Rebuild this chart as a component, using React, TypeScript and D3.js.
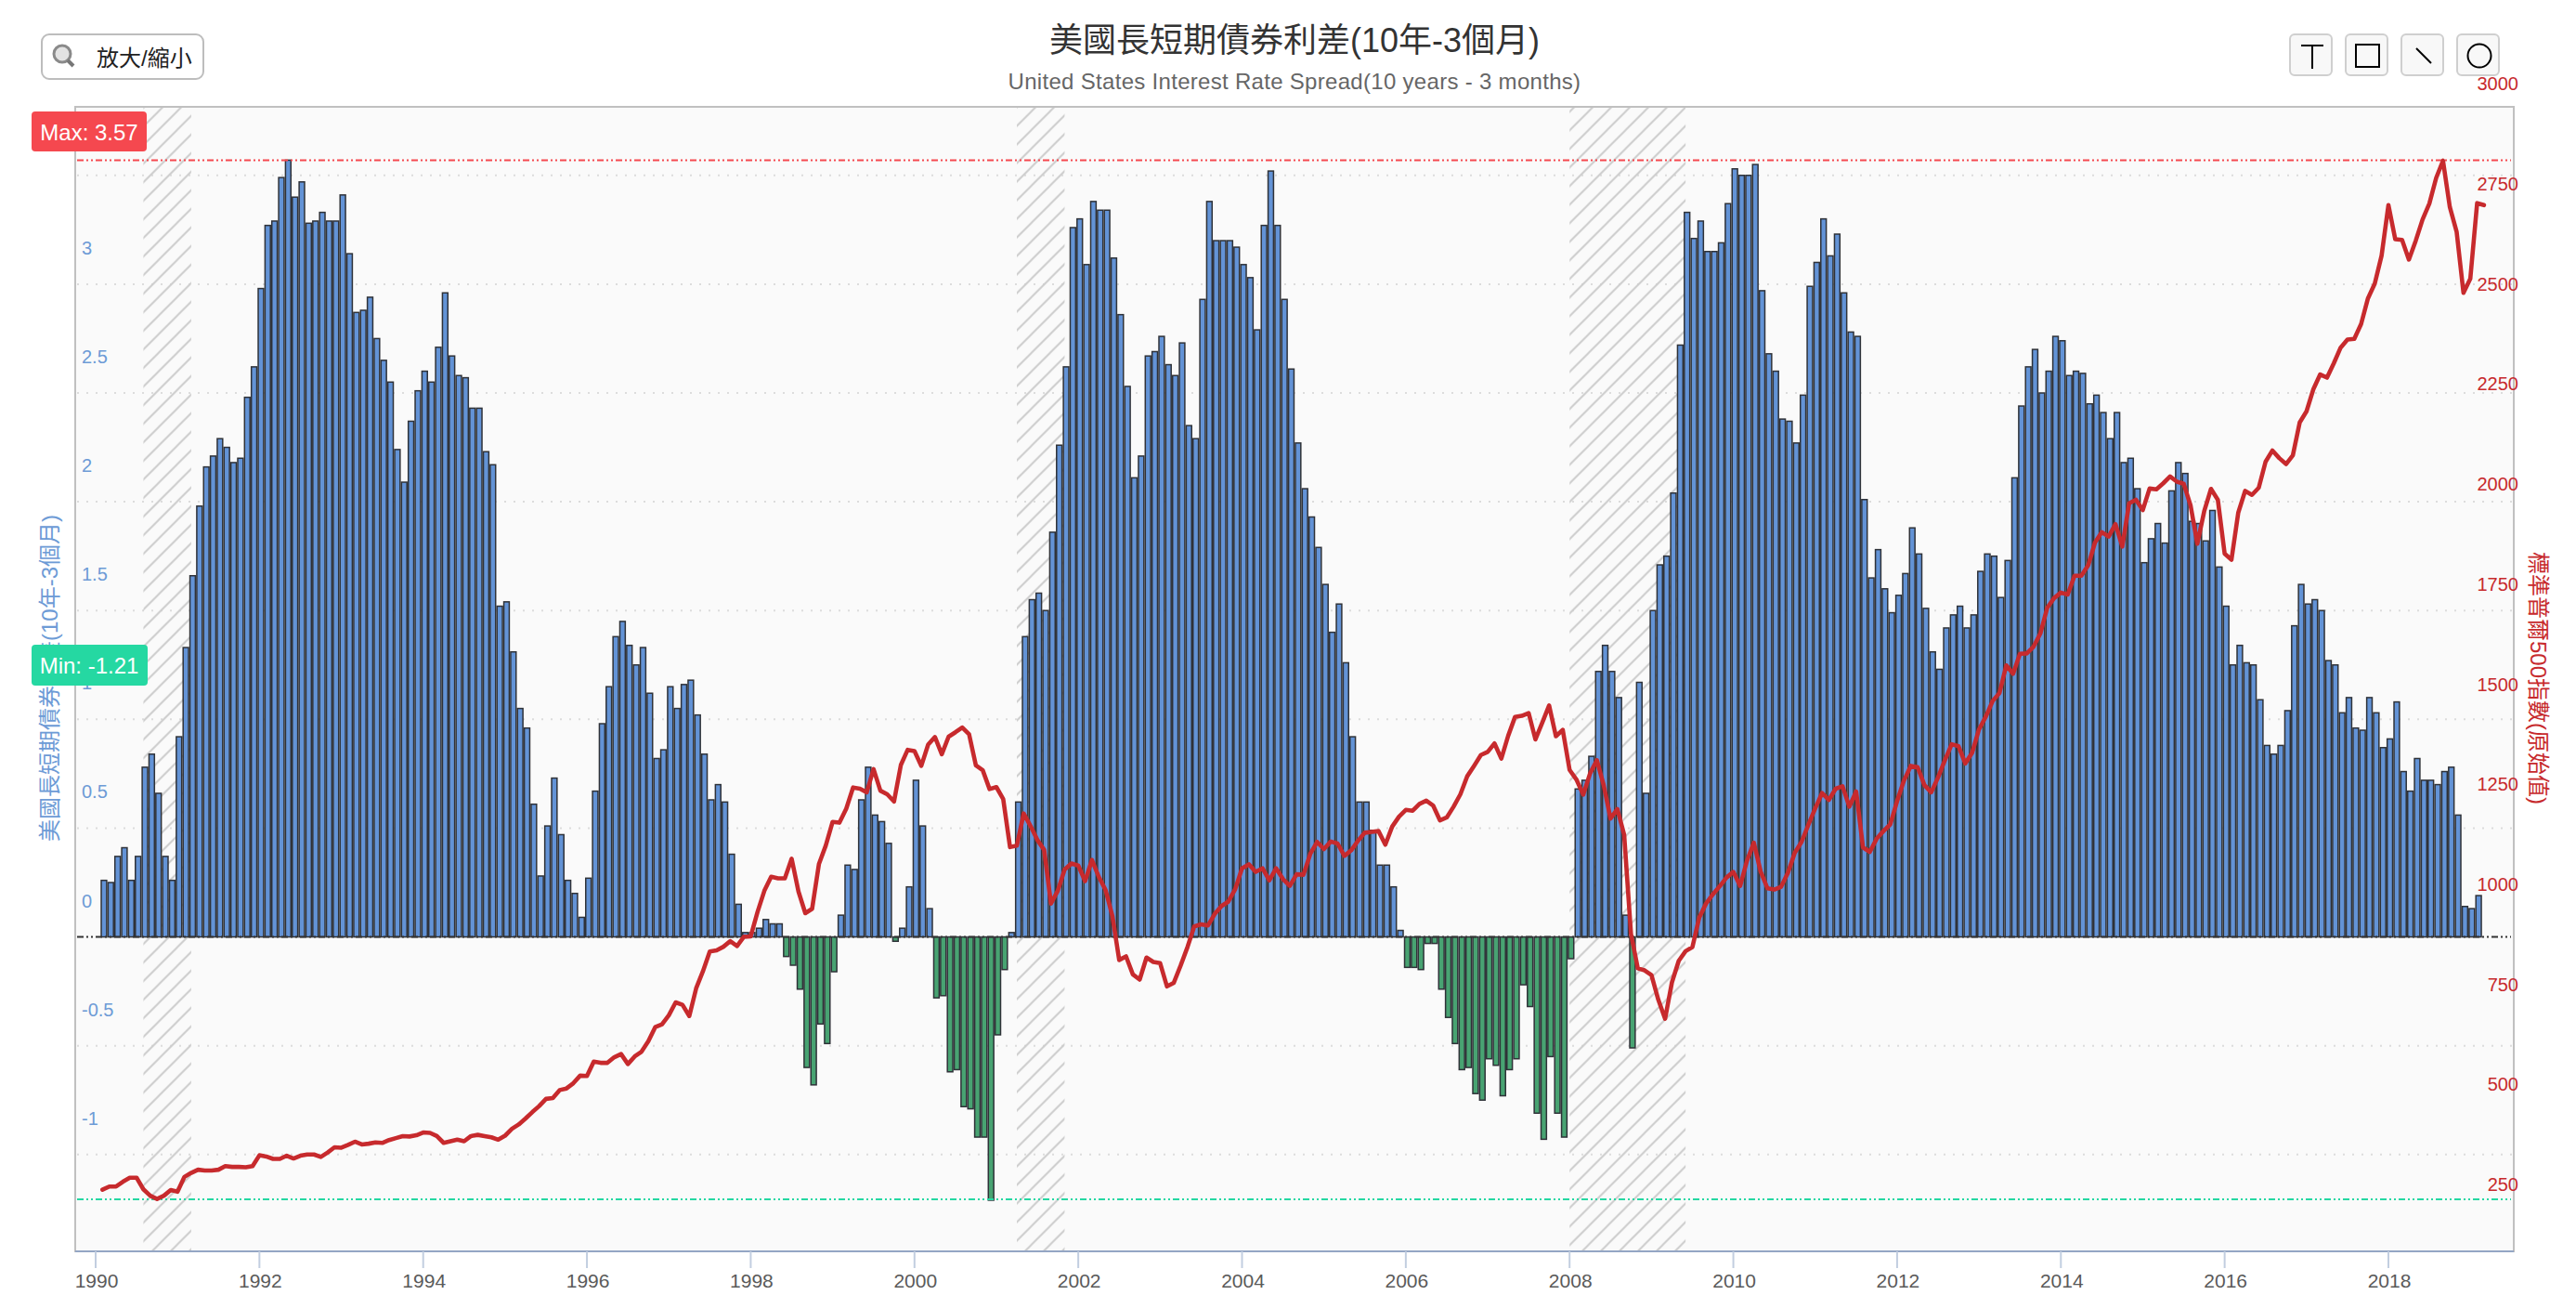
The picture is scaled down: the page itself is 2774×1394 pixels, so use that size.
import React from "react";
import * as d3 from "d3";

const WIDTH = 2774;
const HEIGHT = 1394;

const TITLE = "美國長短期債券利差(10年-3個月)";
const SUBTITLE = "United States Interest Rate Spread(10 years - 3 months)";
const LEFT_NAME = "美國長短期債券利差(10年-3個月)";
const RIGHT_NAME = "標準普爾500指數(原始值)";

// months since Jan 1990, first mark is Feb 1990
const FIRST_MONTH = 1;
const YEAR_TICKS = d3.range(1990, 2019, 2);
const LEFT_TICKS = [-1, -0.5, 0, 0.5, 1, 1.5, 2, 2.5, 3];
const RIGHT_TICKS = [250, 500, 750, 1000, 1250, 1500, 1750, 2000, 2250, 2500, 2750, 3000];
const GRID_VALUES = [-1, -0.5, 0.5, 1, 1.5, 2, 2.5, 3, 3.5];
const MAX_VALUE = 3.57;
const MIN_VALUE = -1.21;

// recessions as [start, end] in months since Jan 1990
const RECESSIONS = [[7, 14], [135, 142], [216, 233]];

const SPREAD = [
  0.26, 0.25, 0.37, 0.41, 0.26, 0.37, 0.78, 0.84, 0.66, 0.37, 0.26, 0.92, 1.33, 1.66, 1.98, 2.16, 2.21, 2.29, 2.25, 2.18,
  2.2, 2.48, 2.62, 2.98, 3.27, 3.29, 3.49, 3.57, 3.4, 3.47, 3.28, 3.29, 3.33, 3.29, 3.29, 3.41, 3.14, 2.87, 2.88, 2.94,
  2.75, 2.65, 2.55, 2.24, 2.09, 2.37, 2.51, 2.6, 2.55, 2.71, 2.96, 2.67, 2.58, 2.57, 2.43, 2.43, 2.23, 2.17, 1.52, 1.54,
  1.31, 1.05, 0.96, 0.61, 0.28,
  0.51, 0.73, 0.47, 0.26, 0.2, 0.09, 0.27, 0.67, 0.98, 1.15, 1.38, 1.45, 1.34, 1.25, 1.33, 1.12, 0.82, 0.86, 1.15, 1.05,
  1.16, 1.18, 1.02, 0.84, 0.63, 0.7, 0.62, 0.38, 0.15, 0.02, 0.02, 0.04, 0.08, 0.06, 0.06,
  -0.09, -0.13, -0.24, -0.6, -0.68, -0.4, -0.49, -0.16, 0.1, 0.33, 0.31, 0.63, 0.78, 0.56, 0.53, 0.43, -0.02, 0.04, 0.23,
  0.72, 0.51, 0.13, -0.28, -0.27, -0.62, -0.61, -0.78, -0.79, -0.92, -0.92, -1.21, -0.45, -0.15, 0.02,
  0.62, 1.38, 1.55, 1.58, 1.5, 1.86, 2.26, 2.62, 3.26, 3.3, 3.09, 3.38, 3.34, 3.34, 3.12, 2.86, 2.53, 2.11, 2.21, 2.67,
  2.69, 2.76, 2.63, 2.58, 2.73, 2.35, 2.29, 2.93, 3.38, 3.2, 3.2, 3.2, 3.17, 3.09, 3.03, 2.79, 3.27, 3.52, 3.27, 2.93,
  2.61, 2.27, 2.06, 1.93, 1.79, 1.62, 1.4, 1.53, 1.26, 0.92, 0.62, 0.62, 0.49, 0.33, 0.33, 0.23, 0.03,
  -0.14, -0.14, -0.15, -0.03, -0.03, -0.24, -0.37, -0.49, -0.61, -0.6, -0.72, -0.75, -0.56, -0.59, -0.73, -0.61, -0.56,
  -0.22, -0.32, -0.81, -0.93, -0.55, -0.81, -0.92, -0.1,
  0.68, 0.72, 0.83, 1.22, 1.34, 1.22, 1.1, 0.1, -0.51, 1.17, 0.66, 1.5, 1.71, 1.75, 2.04, 2.72, 3.33, 3.21, 3.29, 3.15,
  3.15, 3.19, 3.37, 3.53, 3.5, 3.5, 3.55, 2.97, 2.68, 2.6, 2.38, 2.37, 2.27, 2.49, 2.99, 3.1, 3.3, 3.13, 3.23, 2.96,
  2.78, 2.76, 2.01, 1.65, 1.78, 1.6, 1.49, 1.57, 1.67, 1.88, 1.76, 1.51, 1.31, 1.23, 1.42, 1.48, 1.52, 1.42,
  1.48, 1.68, 1.76, 1.75, 1.56, 1.73, 2.11, 2.44, 2.62, 2.7, 2.5, 2.6, 2.76, 2.74, 2.58, 2.6, 2.59, 2.45, 2.49, 2.41,
  2.29, 2.41, 2.18, 2.2, 2.06, 1.72, 1.83, 1.9, 1.81, 2.05, 2.18, 2.13, 1.91, 1.9, 1.82, 1.96, 1.7, 1.52, 1.25, 1.34,
  1.26, 1.25, 1.09, 0.88, 0.84, 0.88, 1.04, 1.43, 1.62, 1.53, 1.55, 1.5, 1.27, 1.25, 1.03, 1.1, 0.96, 0.95, 1.1, 1.03,
  0.87, 0.91, 1.08, 0.76, 0.67, 0.82, 0.72, 0.72, 0.7, 0.76, 0.78, 0.56, 0.14, 0.13, 0.19,
];

const SP500 = [
  330, 338, 338, 350, 360, 360, 331, 315, 307, 315, 329,
  325, 362, 372, 380, 378, 378, 380, 389, 387, 387, 386, 389,
  416, 413, 407, 407, 415, 408, 415, 418, 418, 412, 423, 436,
  435, 442, 450, 443, 445, 448, 447, 454, 459, 464, 463, 466,
  473, 472, 464, 447, 451, 455, 451, 464, 467, 464, 461, 455,
  465, 482, 493, 508, 524, 539, 557, 559, 579, 583, 596, 615,
  614, 650, 647, 647, 661, 669, 644, 663, 675, 701, 736, 743,
  766, 798, 792, 764, 833, 876, 925, 928, 937, 951, 939, 962,
  963, 1024, 1077, 1112, 1108, 1108, 1157, 1075, 1021, 1032, 1144, 1190,
  1249, 1247, 1282, 1335, 1332, 1323, 1381, 1327, 1318, 1300, 1391, 1429,
  1426, 1389, 1442, 1461, 1418, 1462, 1473, 1485, 1468, 1390, 1378, 1331,
  1336, 1306, 1186, 1190, 1270, 1239, 1204, 1179, 1045, 1077, 1130, 1145,
  1140, 1101, 1154, 1112, 1079, 1014, 904, 913, 868, 855, 910, 899,
  896, 838, 847, 890, 936, 988, 993, 990, 1019, 1039, 1050, 1081,
  1133, 1143, 1124, 1133, 1103, 1133, 1106, 1089, 1118, 1117, 1169, 1199,
  1181, 1200, 1195, 1164, 1178, 1202, 1222, 1224, 1226, 1192, 1237, 1262,
  1279, 1277, 1294, 1302, 1290, 1253, 1260, 1287, 1318, 1363, 1389, 1416,
  1424, 1445, 1407, 1464, 1511, 1514, 1521, 1455, 1497, 1540, 1463, 1479,
  1379, 1355, 1317, 1370, 1403, 1341, 1257, 1281, 1217, 969, 883, 878,
  866, 805, 757, 848, 902, 926, 936, 1010, 1045, 1068, 1088, 1110,
  1124, 1089, 1152, 1197, 1125, 1083, 1080, 1087, 1122, 1172, 1199, 1242,
  1283, 1321, 1304, 1332, 1338, 1287, 1325, 1185, 1174, 1207, 1226, 1243,
  1301, 1352, 1389, 1386, 1341, 1323, 1360, 1403, 1443, 1438, 1395, 1422,
  1480, 1512, 1551, 1571, 1640, 1619, 1669, 1670, 1687, 1720, 1784, 1808,
  1822, 1817, 1864, 1864, 1890, 1947, 1973, 1962, 1993, 1937, 2045, 2054,
  2028, 2082, 2080, 2095, 2112, 2099, 2094, 2040, 1944, 2025, 2081, 2054,
  1919, 1904, 2022, 2076, 2066, 2084, 2149, 2177, 2158, 2143, 2165, 2247,
  2275, 2330, 2367, 2359, 2395, 2434, 2454, 2456, 2493, 2557, 2594, 2664,
  2790, 2705, 2703, 2654, 2701, 2754, 2794, 2858, 2901, 2785, 2723, 2571,
  2606, 2795, 2790,
];

const PLOT = { left: 81, right: 2707, top: 115, bottom: 1347 };

const COLORS = {
  blue: "#6393d6",
  green: "#48a372",
  barStroke: "#2f3238",
  leftAxis: "#6d9bd6",
  red: "#c72a2d",
  grid: "#dcdcdc",
  maxMark: "#f5484f",
  minMark: "#25d8a2",
};

const x = d3.scaleLinear().domain([0, 336]).range([103, 2572]);
const yLeft = d3.scaleLinear().domain([-1.445, 3.815]).range([PLOT.bottom, PLOT.top]);
const yRight = d3.scaleLinear().domain([2901, 306]).range([173, 1291]);

const linePath = d3
  .line<number>()
  .x((_, i) => x(FIRST_MONTH + i))
  .y((d) => yRight(d))(SP500) as string;

const SANS = "'Liberation Sans', Arial, sans-serif";
const CJK = "'Liberation Sans', 'Noto Sans CJK TC', sans-serif";
const DASH_DOT = "7 3 2 3 2 3";
const BAR_W = 5.85;
const BAR_SHIFT = 1.6;
const LEFT_LABEL_RAISE = 39;
const RIGHT_LABEL_RAISE = 40;

function Bars() {
  const zero = yLeft(0);
  return (
    <g stroke={COLORS.barStroke} strokeWidth={1.5}>
      {SPREAD.map((v, i) => {
        const cx = x(FIRST_MONTH + i) + BAR_SHIFT;
        const y1 = yLeft(v);
        return (
          <rect
            key={i}
            x={cx - BAR_W / 2}
            y={Math.min(y1, zero)}
            width={BAR_W}
            height={Math.abs(y1 - zero)}
            fill={v >= 0 ? COLORS.blue : COLORS.green}
          />
        );
      })}
    </g>
  );
}

function ToolButton({ x: bx, children }: { x: number; children: React.ReactNode }) {
  return (
    <g>
      <rect x={bx} y={37} width={45} height={44} rx={5} fill="#f8f8f8" stroke="#cfcfcf" strokeWidth={2} />
      {children}
    </g>
  );
}

export default function App() {
  return (
    <svg
      width={WIDTH}
      height={HEIGHT}
      style={{ position: "absolute", left: 0, top: 0, display: "block", background: "#fff" }}
    >
      <defs>
        <pattern
          id="hatch"
          patternUnits="userSpaceOnUse"
          width={20}
          height={20}
          patternTransform="translate(10.6,0)"
        >
          <path d="M-2,2 L2,-2 M0,20 L20,0 M18,22 L22,18" stroke="#cdcdcd" strokeWidth={2} fill="none" />
        </pattern>
      </defs>

      <rect
        x={PLOT.left}
        y={PLOT.top}
        width={PLOT.right - PLOT.left}
        height={PLOT.bottom - PLOT.top}
        fill="#fafafa"
        stroke="#c0c0c0"
        strokeWidth={2}
      />

      {GRID_VALUES.map((v) => (
        <line
          key={v}
          x1={PLOT.left + 2}
          x2={PLOT.right - 2}
          y1={yLeft(v)}
          y2={yLeft(v)}
          stroke={COLORS.grid}
          strokeWidth={2}
          strokeDasharray="2 8"
        />
      ))}

      {RECESSIONS.map(([a, b]) => (
        <rect
          key={a}
          x={x(a)}
          y={PLOT.top + 1}
          width={x(b) - x(a)}
          height={PLOT.bottom - PLOT.top - 2}
          fill="url(#hatch)"
        />
      ))}

      <Bars />

      {/* mark lines */}
      <line x1={PLOT.left + 2} x2={PLOT.right - 3} y1={yLeft(0)} y2={yLeft(0)} stroke="#333" strokeWidth={2} strokeDasharray={DASH_DOT} />
      <line x1={PLOT.left + 2} x2={PLOT.right - 3} y1={yLeft(MAX_VALUE)} y2={yLeft(MAX_VALUE)} stroke={COLORS.maxMark} strokeWidth={2} strokeDasharray={DASH_DOT} />
      <line x1={PLOT.left + 2} x2={PLOT.right - 3} y1={1291} y2={1291} stroke={COLORS.minMark} strokeWidth={2} strokeDasharray={DASH_DOT} />

      <path d={linePath} fill="none" stroke={COLORS.red} strokeWidth={4.6} strokeLinejoin="round" strokeLinecap="round" />

      {/* x axis */}
      <line x1={PLOT.left} x2={PLOT.right} y1={PLOT.bottom} y2={PLOT.bottom} stroke="#94a6c4" strokeWidth={2} />
      {YEAR_TICKS.map((yr) => {
        const tx = x((yr - 1990) * 12);
        return (
          <g key={yr}>
            <line x1={tx} x2={tx} y1={PLOT.bottom} y2={PLOT.bottom + 18} stroke="#c2cee0" strokeWidth={2} />
            <text x={tx + 1} y={1386} textAnchor="middle" fontFamily={SANS} fontSize={21} fill="#5a5a5a">
              {yr}
            </text>
          </g>
        );
      })}

      {/* left axis labels */}
      {LEFT_TICKS.map((v) => (
        <text
          key={v}
          x={88}
          y={yLeft(v) - LEFT_LABEL_RAISE}
          dominantBaseline="central"
          fontFamily={SANS}
          fontSize={20}
          fill={COLORS.leftAxis}
        >
          {v}
        </text>
      ))}

      {/* right axis labels */}
      {RIGHT_TICKS.map((v) => (
        <text
          key={v}
          x={2712}
          y={yRight(v) - RIGHT_LABEL_RAISE}
          textAnchor="end"
          dominantBaseline="central"
          fontFamily={SANS}
          fontSize={20}
          fill={COLORS.red}
        >
          {v}
        </text>
      ))}

      {/* axis names */}
      <text
        transform="translate(53,730) rotate(-90)"
        textAnchor="middle"
        dominantBaseline="central"
        fontFamily={CJK}
        fontSize={24}
        fill={COLORS.leftAxis}
      >
        {LEFT_NAME}
      </text>
      <text
        transform="translate(2733,730) rotate(90)"
        textAnchor="middle"
        dominantBaseline="central"
        fontFamily={CJK}
        fontSize={24}
        fill={COLORS.red}
      >
        {RIGHT_NAME}
      </text>

      {/* titles */}
      <text x={1394} y={56} textAnchor="middle" fontFamily={CJK} fontSize={36} fill="#333">
        {TITLE}
      </text>
      <text x={1394} y={96} textAnchor="middle" fontFamily={SANS} fontSize={24} letterSpacing={0.3} fill="#666">
        {SUBTITLE}
      </text>

      {/* max / min labels */}
      <rect x={34} y={120} width={124} height={43} rx={4} fill={COLORS.maxMark} />
      <text x={96} y={142} textAnchor="middle" dominantBaseline="central" fontFamily={SANS} fontSize={24} fill="#fff">
        {`Max: ${MAX_VALUE}`}
      </text>
      <rect x={34} y={694} width={125} height={44} rx={4} fill={COLORS.minMark} />
      <text x={96} y={716} textAnchor="middle" dominantBaseline="central" fontFamily={SANS} fontSize={24} fill="#fff">
        {`Min: ${MIN_VALUE}`}
      </text>

      {/* zoom button */}
      <rect x={45} y={37} width={174} height={48} rx={8} fill="#fff" stroke="#bdbdbd" strokeWidth={2} />
      <circle cx={67} cy={58} r={9} fill="#e3e3e3" stroke="#8a8a8a" strokeWidth={3} />
      <line x1={73} y1={65} x2={79} y2={71} stroke="#777" strokeWidth={4} />
      <text x={104} y={62} dominantBaseline="central" fontFamily={CJK} fontSize={24} fill="#222">
        放大/縮小
      </text>

      {/* drawing tools */}
      <ToolButton x={2466}>
        <path d="M2478,49 H2502 M2490,49 V74" stroke="#000" strokeWidth={2} fill="none" />
      </ToolButton>
      <ToolButton x={2526}>
        <rect x={2537} y={48} width={25} height={24} stroke="#000" strokeWidth={2} fill="none" />
      </ToolButton>
      <ToolButton x={2586}>
        <line x1={2602} y1={52} x2={2618} y2={68} stroke="#000" strokeWidth={2} />
      </ToolButton>
      <ToolButton x={2646}>
        <circle cx={2670} cy={60} r={12.5} stroke="#000" strokeWidth={2} fill="none" />
      </ToolButton>
    </svg>
  );
}
